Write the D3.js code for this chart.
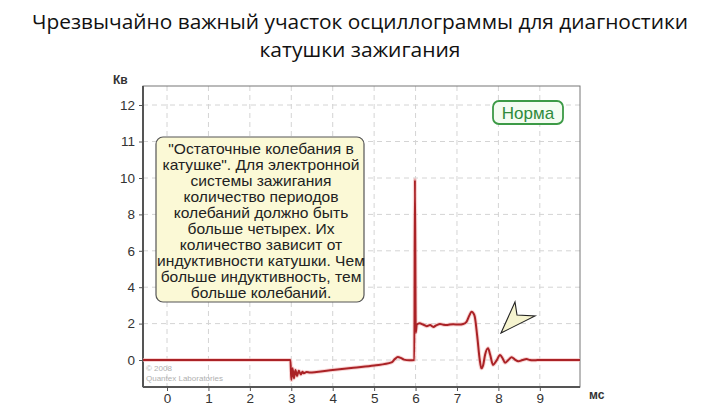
<!DOCTYPE html>
<html><head><meta charset="utf-8">
<script src="https://cdn.jsdelivr.net/npm/d3@7"></script>
<style>html,body{margin:0;padding:0;background:#fff;}svg{display:block;}</style>
</head><body>
<svg id="c" width="720" height="405"></svg>
<script>
const titleLines = ["Чрезвычайно важный участок осциллограммы для диагностики", "катушки зажигания"];
const xTicks = [0,1,2,3,4,5,6,7,8,9];
const yTicks = [0,2,4,6,8,10,11,12];
const traceT = [-0.58,2.98,3.0,3.03,3.065,3.1,3.14,3.18,3.23,3.27,3.3,3.37,3.45,3.61,4.0,4.5,5.0,5.42,5.5,5.57,5.64,5.72,5.85,5.97,5.985,6.005,6.03,6.1,6.18,6.27,6.35,6.43,6.51,6.59,6.67,6.75,6.83,6.91,7.05,7.15,7.23,7.3,7.35,7.4,7.43,7.49,7.55,7.59,7.63,7.68,7.75,7.8,7.87,7.95,8.04,8.1,8.16,8.24,8.32,8.4,8.48,8.58,8.68,8.76,8.84,8.95,9.97];
const traceV = [0,0,-1.1,-0.46,-1.0,-0.55,-0.88,-0.59,-0.79,-0.64,-0.73,-0.66,-0.69,-0.66,-0.55,-0.42,-0.3,-0.13,0.05,0.16,0.12,0.02,-0.02,0.0,9.9,1.5,1.95,2.02,1.95,1.86,1.92,1.82,1.92,1.98,1.94,1.92,1.95,1.96,1.95,1.98,2.1,2.45,2.65,2.55,2.38,1.28,0.0,-0.46,-0.3,0.3,0.64,0.3,-0.27,-0.05,0.27,0.1,-0.15,0,0.15,0.02,-0.07,0,0.05,0,-0.02,0,0];
const calloutLines = ["\"Остаточные колебания в","катушке\". Для электронной","системы зажигания","количество периодов","колебаний должно быть","больше четырех. Их","количество зависит от","индуктивности катушки. Чем","больше индуктивность, тем","больше колебаний."];
const badgeText = "Норма";
const yUnit = "Кв", xUnit = "мс";
const credit = ["© 2008","Quantex Laboratories"];

const svg = d3.select("#c");
const L=143, R=580, T=86, B=387;
const x = d3.scaleLinear().domain([-0.58, 9.97]).range([L, R]);
const y = d3.scaleLinear().domain([-1.5, 0, 10, 12]).range([387.3, 360, 178, 105]);

// title
svg.selectAll("text.title").data(titleLines).join("text")
  .attr("x", 360).attr("y", (d,i)=> i===0 ? 29 : 57)
  .attr("text-anchor","middle").attr("font-family","Open Sans, sans-serif")
  .attr("font-size", 19.5).attr("fill","#111")
  .attr("textLength",(d,i)=> i===0 ? 656 : 201).attr("lengthAdjust","spacingAndGlyphs")
  .text(d=>d);

// grid
const g = svg.append("g");
g.selectAll("line.vg").data(xTicks).join("line")
  .attr("x1",d=>x(d)).attr("x2",d=>x(d)).attr("y1",T).attr("y2",B)
  .attr("stroke","#d4d4d4").attr("stroke-width",1).attr("stroke-dasharray","5,4");
g.selectAll("line.hg").data(yTicks).join("line")
  .attr("x1",L).attr("x2",R).attr("y1",d=>y(d)).attr("y2",d=>y(d))
  .attr("stroke","#d4d4d4").attr("stroke-width",1).attr("stroke-dasharray","5,4");

// frame
svg.append("rect").attr("x",L).attr("y",T).attr("width",R-L).attr("height",B-T)
  .attr("fill","none").attr("stroke","#777").attr("stroke-width",1);

// axes
const yAxis = d3.axisLeft(y).tickValues(yTicks).tickSize(4).tickPadding(4);
const ya = svg.append("g").attr("transform",`translate(${L},0)`).call(yAxis);
const xAxis = d3.axisBottom(x).tickValues(xTicks).tickSize(4).tickPadding(2);
const xa = svg.append("g").attr("transform",`translate(0,${B})`).call(xAxis);
[ya,xa].forEach(a=>{
  a.select(".domain").attr("stroke","#555").attr("stroke-width",2);
  a.selectAll(".tick line").attr("stroke","#555");
  a.selectAll(".tick text").attr("font-family","Liberation Sans, Arial, sans-serif").attr("font-size",13.5).attr("fill","#333");
});
ya.select(".domain").attr("d",`M0,${T}V${B}`);
xa.select(".domain").attr("d",`M${L},0H${R}`);

svg.append("text").attr("x",113).attr("y",84).attr("font-family","Liberation Sans, Arial, sans-serif")
  .attr("font-size",12).attr("font-weight","bold").attr("fill","#333").text(yUnit);
svg.append("text").attr("x",589).attr("y",399).attr("font-family","Liberation Sans, Arial, sans-serif")
  .attr("font-size",12).attr("font-weight","bold").attr("fill","#333").text(xUnit);

// credit
svg.selectAll("text.cr").data(credit).join("text")
  .attr("x",146).attr("y",(d,i)=>371+i*10).attr("font-family","Liberation Sans, Arial, sans-serif")
  .attr("font-size",8).attr("fill","#b0b0b0").text(d=>d);

// trace
const pts = traceT.map((t,i)=>[t,traceV[i]]);
const line = d3.line().x(d=>x(d[0])).y(d=>y(d[1])).curve(d3.curveMonotoneX);
svg.append("path").datum(pts).attr("d",line).attr("fill","none")
  .attr("stroke","#f4b8b8").attr("stroke-width",4).attr("opacity",0.6);
svg.append("path").datum(pts).attr("d",line).attr("fill","none")
  .attr("stroke","#aa2226").attr("stroke-width",2).attr("stroke-linejoin","round");

// callout
svg.append("rect").attr("x",156).attr("y",137).attr("width",208).attr("height",165)
  .attr("rx",7).attr("fill","#fbf9d6").attr("stroke","#555").attr("stroke-width",1.2);
const cg = svg.append("g");
const ct = cg.selectAll("text.co").data(calloutLines).join("text")
  .attr("x",0).attr("y",(d,i)=>154.5+i*16).attr("text-anchor","middle")
  .attr("font-family","Liberation Sans, Arial, sans-serif").attr("font-size",14).attr("fill","#222")
  .text(d=>d);
const maxW = d3.max(ct.nodes(), n=>n.getComputedTextLength());
cg.attr("transform",`translate(261,0) scale(${208/maxW},1)`);

// badge
svg.append("rect").attr("x",493).attr("y",101).attr("width",70).attr("height",23).attr("rx",6)
  .attr("fill","#f4fcf2").attr("stroke","#3c9a46").attr("stroke-width",1.8);
svg.append("text").attr("x",528).attr("y",119).attr("text-anchor","middle")
  .attr("font-family","Liberation Sans, Arial, sans-serif").attr("font-size",17).attr("fill","#2f8a3c").text(badgeText);

// pointer arrow
svg.append("path").attr("d","M501,333 L515,302 L517,315 L535,316 Z")
  .attr("fill","#f6f4cf").attr("stroke","#222").attr("stroke-width",1.1).attr("stroke-linejoin","miter");
</script>
</body></html>
